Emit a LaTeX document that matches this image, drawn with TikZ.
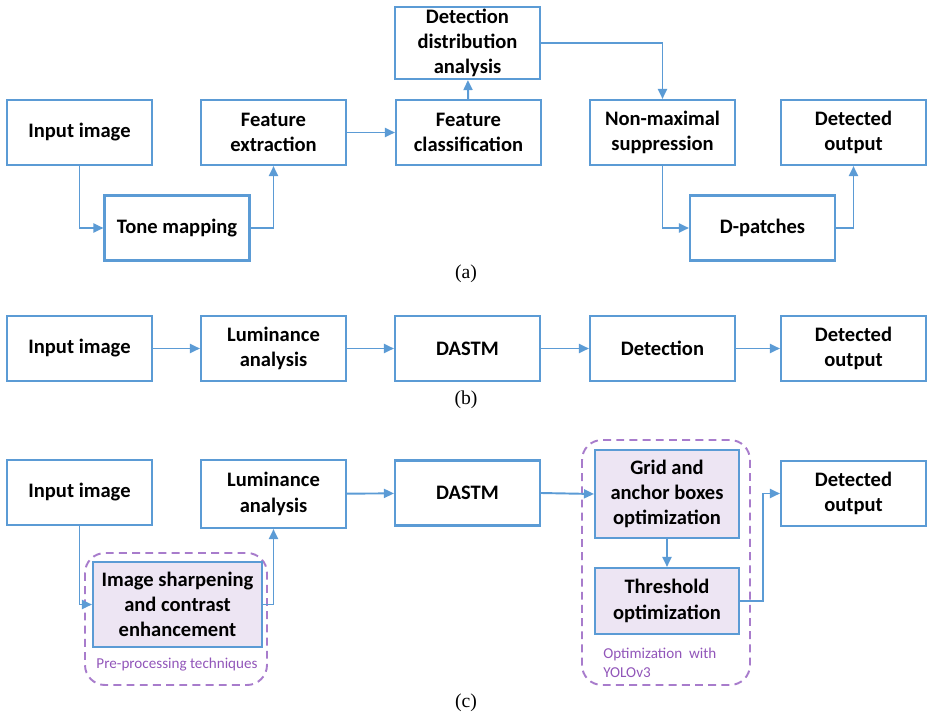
\documentclass[tikz,border=0pt]{standalone}
\usepackage{fontspec}
\setmainfont{Carlito}
\newfontfamily\capfont{Liberation Serif}
\usepackage{xcolor}
\usepackage{tikz}
\usetikzlibrary{arrows.meta}
\definecolor{boxblue}{RGB}{91,155,213}
\definecolor{boxfill}{RGB}{237,229,243}
\definecolor{dashpurple}{RGB}{168,124,204}
\definecolor{txtpurple}{RGB}{145,85,185}

\begin{document}
\begin{tikzpicture}[x=0.02cm,y=-0.02cm,
        blk/.style={draw=boxblue,line width=1.2pt,align=center,inner sep=0pt,
            minimum width=2.9cm,minimum height=1.3cm,
            font=\fontsize{11.7}{14.4}\selectfont\bfseries},
        hlblk/.style={blk,fill=boxfill},
        arr/.style={draw=boxblue,line width=1.1pt,-{Triangle[length=2mm,width=1.8mm]}},
        grp/.style={draw=dashpurple,line width=1.1pt,dash pattern=on 4.5pt off 3pt,rounded corners=0.4cm},
        grplbl/.style={text=txtpurple,font=\fontsize{8.6}{10.8}\selectfont,inner sep=0pt},
        sublbl/.style={font=\capfont\fontsize{11.2}{13}\selectfont}]
        \useasboundingbox (0,0) rectangle (927,717);

        \node [style=blk] (A) at (79.5,132.5) {Input image};
        \node [style=blk] (B) at (177,228) {Tone mapping};
        \node [style=blk] (C) at (273.5,132.5) {Feature\\extraction};
        \node [style=blk,minimum height=1.44cm] (D) at (467.5,43) {Detection\\distribution\\analysis};
        \node [style=blk] (E) at (468.5,132.5) {Feature\\classification};
        \node [style=blk] (F) at (662.5,132.5) {Non-maximal\\suppression};
        \node [style=blk] (G) at (853.5,132.5) {Detected\\output};
        \node [style=blk] (H) at (762.5,228) {D-patches};
        \node [style=sublbl] (La) at (466,274) {(a)};
        \draw [arr] (A.south) |- (B.west);
        \draw [arr] (B.east) -| (C.south);
        \draw [arr] (C) -- (E);
        \draw [arr] (E) -- (D);
        \draw [arr] (D.east) -| (F.north);
        \draw [arr] (F.south) |- (H.west);
        \draw [arr] (H.east) -| (G.south);

        \node [style=blk] (A1) at (79.5,348.5) {Input image};
        \node [style=blk] (B1) at (273.5,348.5) {Luminance\\analysis};
        \node [style=blk] (C1) at (467.5,348.5) {DASTM};
        \node [style=blk] (D1) at (662.5,348.5) {Detection};
        \node [style=blk] (E1) at (853.5,348.5) {Detected\\output};
        \node [style=sublbl] (Lb) at (466,400) {(b)};
        \draw [arr] (A1) -- (B1);
        \draw [arr] (B1) -- (C1);
        \draw [arr] (C1) -- (D1);
        \draw [arr] (D1) -- (E1);

        \draw [grp] (85,553) rectangle (267,685);
        \draw [grp] (582,440) rectangle (750,685);
        \node [style=blk] (A2) at (79.5,492.5) {Input image};
        \node [style=blk,minimum height=1.36cm] (B2) at (273.5,494) {Luminance\\analysis};
        \node [style=blk] (C2) at (467.5,493) {DASTM};
        \node [style=hlblk,minimum width=2.88cm,minimum height=1.76cm] (G2) at (667,494) {Grid and\\anchor boxes\\optimization};
        \node [style=hlblk,minimum width=2.88cm,minimum height=1.32cm] (T2) at (667,601) {Threshold\\optimization};
        \node [style=blk] (D2) at (853.5,493.5) {Detected\\output};
        \node [style=hlblk,minimum width=3.38cm,minimum height=1.7cm] (S2) at (177.5,604.5) {Image sharpening\\and contrast\\enhancement};
        \node [style=grplbl] (P2) at (177,665) {Pre-processing techniques};
        \node [style=grplbl,anchor=west,align=left] (O2) at (603,663) {Optimization\ \ with\\YOLOv3};
        \node [style=sublbl] (Lc) at (466,703) {(c)};
        \draw [arr] (A2.south) |- (S2.west);
        \draw [arr] (S2.east) -| (B2.south);
        \draw [arr] (B2) -- (C2);
        \draw [arr] (C2.east) -- (G2.west);
        \draw [arr] (G2) -- (T2);
        \draw [arr] (T2.east) -- ++(23,0) |- (D2.west);

    \end{tikzpicture}
\end{document}
